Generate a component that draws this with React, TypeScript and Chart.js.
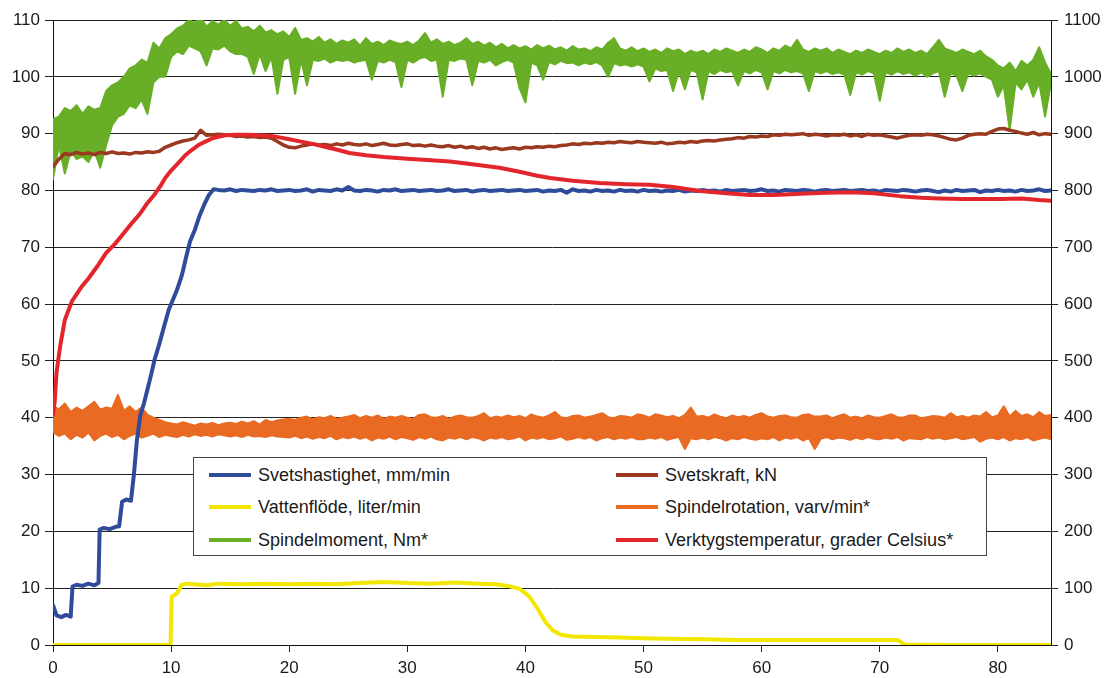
import React, { useEffect, useRef } from "react";
import { Chart, registerables } from "chart.js";
Chart.register(...registerables);

const FONT = "'Liberation Sans', Arial, Helvetica, sans-serif";

// Common sampling grid (time axis, 0.5 step)
const TIME = [
  0, 0.5, 1, 1.5, 2, 2.5, 3, 3.5, 4, 4.5,
  5, 5.5, 6, 6.5, 7, 7.5, 8, 8.5, 9, 9.5,
  10, 10.5, 11, 11.5, 12, 12.5, 13, 13.5, 14, 14.5,
  15, 15.5, 16, 16.5, 17, 17.5, 18, 18.5, 19, 19.5,
  20, 20.5, 21, 21.5, 22, 22.5, 23, 23.5, 24, 24.5,
  25, 25.5, 26, 26.5, 27, 27.5, 28, 28.5, 29, 29.5,
  30, 30.5, 31, 31.5, 32, 32.5, 33, 33.5, 34, 34.5,
  35, 35.5, 36, 36.5, 37, 37.5, 38, 38.5, 39, 39.5,
  40, 40.5, 41, 41.5, 42, 42.5, 43, 43.5, 44, 44.5,
  45, 45.5, 46, 46.5, 47, 47.5, 48, 48.5, 49, 49.5,
  50, 50.5, 51, 51.5, 52, 52.5, 53, 53.5, 54, 54.5,
  55, 55.5, 56, 56.5, 57, 57.5, 58, 58.5, 59, 59.5,
  60, 60.5, 61, 61.5, 62, 62.5, 63, 63.5, 64, 64.5,
  65, 65.5, 66, 66.5, 67, 67.5, 68, 68.5, 69, 69.5,
  70, 70.5, 71, 71.5, 72, 72.5, 73, 73.5, 74, 74.5,
  75, 75.5, 76, 76.5, 77, 77.5, 78, 78.5, 79, 79.5,
  80, 80.5, 81, 81.5, 82, 82.5, 83, 83.5, 84, 84.5,
];

const X_TICKS = [0, 10, 20, 30, 40, 50, 60, 70, 80];
const Y_TICKS = [0, 10, 20, 30, 40, 50, 60, 70, 80, 90, 100, 110];
const Y2_TICKS = [0, 100, 200, 300, 400, 500, 600, 700, 800, 900, 1000, 1100];

// Svetshastighet, mm/min — ramp-up phase (own time stamps)
const BLUE_EARLY_T = [0, 0.3, 0.7, 1.1, 1.5, 1.65, 2.0, 2.5, 3.0, 3.5, 3.85, 3.95, 4.3, 4.8, 5.3, 5.6, 5.85, 6.2, 6.6, 6.85, 7.1, 7.4, 7.7, 8.0, 8.3, 8.6, 9.0, 9.4, 9.8, 10.1, 10.5, 10.9, 11.3, 11.6, 12.0, 12.4, 12.8, 13.2, 13.6];
const BLUE_EARLY_V = [7.0, 5.2, 4.9, 5.3, 5.0, 10.3, 10.6, 10.4, 10.8, 10.5, 10.9, 20.3, 20.6, 20.4, 20.8, 20.9, 25.2, 25.6, 25.4, 30.0, 36.0, 40.5, 42.5, 45.0, 47.5, 50.2, 53.0, 56.0, 59.0, 60.5, 62.5, 65.0, 68.5, 71.0, 73.0, 75.5, 77.5, 79.2, 80.2];
// Svetshastighet, mm/min — steady phase, on TIME grid from t = 14
const BLUE_LATE = [
  80.1, 80.0, 80.2, 79.9, 80.1, 80.0, 79.9, 80.1, 80.0, 80.2, 79.9, 80.0,
  80.1, 79.9, 80.0, 80.2, 79.8, 80.1, 80.0, 79.9, 80.2, 80.0, 80.6, 80.0,
  79.9, 80.1, 80.0, 79.8, 80.1, 80.0, 80.2, 79.9, 80.0, 80.1, 79.9, 80.0,
  80.1, 79.9, 80.0, 80.2, 79.9, 80.0, 80.1, 79.8, 80.0, 80.1, 79.9, 80.0,
  80.1, 79.9, 80.0, 80.1, 79.9, 80.0, 80.1, 79.8, 80.0, 79.9, 80.1, 79.6,
  80.2, 79.9, 80.0, 79.8, 80.1, 79.9, 80.0, 79.8, 80.1, 79.9, 80.0, 79.8,
  80.1, 79.9, 80.0, 79.8, 80.0, 79.9, 80.1, 79.8, 80.0, 79.9, 80.1, 79.9,
  80.0, 79.8, 80.1, 79.9, 80.0, 80.1, 79.9, 80.0, 80.2, 79.9, 80.0, 79.8,
  80.1, 80.0, 79.9, 80.1, 80.0, 79.8, 80.0, 80.1, 79.9, 80.0, 80.1, 79.9,
  80.0, 80.1, 79.9, 80.0, 79.8, 80.1, 80.0, 79.9, 80.1, 80.0, 79.8, 80.0,
  80.1, 79.9, 79.7, 80.0, 79.8, 80.1, 79.9, 80.0, 80.1, 79.7, 80.0, 79.9,
  80.1, 79.9, 80.0, 79.8, 80.1, 79.9, 80.0, 80.2, 79.9, 80.0,
];

// Svetskraft, kN (TIME grid)
const BROWN = [
  84.2, 85.5, 86.5, 86.3, 86.7, 86.4, 86.6, 86.3, 86.7, 86.5,
  86.8, 86.5, 86.6, 86.4, 86.7, 86.6, 86.8, 86.7, 86.9, 87.6,
  88.0, 88.4, 88.7, 88.9, 89.2, 90.6, 89.7, 89.8, 89.9, 89.8,
  89.7, 89.5, 89.6, 89.4, 89.5, 89.3, 89.4, 89.2, 88.6, 88.0,
  87.6, 87.5, 87.8, 88.0, 88.2, 88.0, 88.1, 87.9, 88.2, 88.0,
  88.3, 88.1, 88.0, 88.2, 87.9, 88.1, 88.3, 88.0, 87.9, 88.1,
  88.2, 87.9, 88.0, 87.8, 88.0, 87.8, 87.7, 87.9, 87.6, 87.8,
  87.5, 87.7, 87.4, 87.6, 87.3, 87.5, 87.2, 87.4, 87.5, 87.3,
  87.6, 87.5, 87.7, 87.6, 87.8, 87.7, 87.9, 88.0, 88.2, 88.1,
  88.3, 88.2, 88.4, 88.3, 88.5, 88.4, 88.6, 88.5, 88.4, 88.6,
  88.5, 88.4, 88.3, 88.5, 88.2, 88.3, 88.5, 88.4, 88.6, 88.5,
  88.7, 88.8, 88.7, 88.9, 89.0, 89.1, 89.3, 89.2, 89.5, 89.4,
  89.6, 89.5, 89.8, 89.7, 89.9, 89.8, 89.9, 90.0, 89.7, 89.9,
  89.8, 89.6, 89.8, 89.7, 89.9, 89.6, 89.8, 89.5, 89.9, 89.7,
  89.8, 89.6, 89.4, 89.2, 89.5, 89.7, 89.8, 89.7, 89.9, 89.8,
  89.6, 89.3, 89.0, 88.9, 89.2, 89.7, 89.9, 90.0, 89.9, 90.4,
  90.8, 90.9, 90.6, 90.4, 90.1, 89.9, 90.2, 89.8, 90.0, 89.9,
];

// Vattenflöde, liter/min (own time stamps)
const YEL_T = [0, 5, 9.95, 10.05, 10.5, 10.9, 11.5, 12, 13, 14, 16, 18, 20, 22, 24, 26, 28, 30, 32, 34, 36, 37.5, 38.5, 39.5, 40.3, 41, 41.7, 42.3, 43, 44, 46, 48, 50, 52, 55, 58, 61, 64, 67, 70, 71.5, 72.1, 76, 80, 84.5];
const YEL_V = [0, 0, 0, 8.5, 9.1, 10.6, 10.8, 10.7, 10.5, 10.8, 10.7, 10.8, 10.7, 10.8, 10.7, 10.9, 11.1, 10.9, 10.8, 11.0, 10.8, 10.7, 10.4, 9.9, 8.6, 6.5, 4.0, 2.6, 1.8, 1.5, 1.4, 1.3, 1.2, 1.1, 1.0, 0.9, 0.9, 0.9, 0.9, 0.9, 0.9, 0.1, 0, 0, 0];

// Spindelrotation, varv/min (TIME grid, right axis) — upper and lower extremes of the noisy trace
const ORANGE_HI = [
  420, 415, 425, 410, 418, 412, 420, 428, 414, 418,
  416, 440, 412, 420, 410, 418, 405, 400, 396, 392,
  390, 388, 392, 389, 386, 390, 388, 391, 387, 390,
  391, 389, 393, 390, 394, 388, 396, 392, 395, 397,
  398, 396, 400, 402, 397, 401, 399, 403, 398, 400,
  402, 405, 399, 403, 400, 404, 398, 402, 400, 403,
  400, 398, 405, 406, 401, 400, 403, 398, 402, 404,
  401, 400, 403, 408, 399, 402, 400, 404, 401, 403,
  399, 406, 402, 400, 404, 410, 401, 399, 403, 404,
  400, 402, 405, 408, 401, 399, 403, 402, 400, 406,
  404, 400, 406, 404, 401, 403, 399, 405, 418, 402,
  403, 400, 406, 402, 399, 404, 401, 403, 400, 405,
  408, 402, 400, 403, 404, 401, 400, 405, 406, 402,
  402, 404, 399, 403, 406, 400, 402, 399, 404, 401,
  400, 403, 406, 401, 400, 404, 404, 399, 401, 403,
  402, 400, 408, 401, 403, 400, 404, 402, 410, 401,
  404, 420, 402, 412, 403, 406, 401, 410, 403, 405,
];
const ORANGE_LO = [
  375, 368, 372, 362, 370, 365, 374, 360, 368, 372,
  366, 370, 362, 368, 372, 365, 368, 372, 366, 370,
  368, 366, 370, 367, 371, 368, 370, 367, 371, 369,
  367, 369, 366, 370, 367, 368, 366, 369, 367, 366,
  365, 368, 364, 367, 363, 366, 364, 368, 362, 366,
  364, 367, 363, 366, 360, 365, 363, 367, 362, 366,
  364, 361, 366, 363, 367, 362, 360, 365, 363, 366,
  362, 366, 364, 360, 365, 363, 366, 362, 364, 367,
  360, 365, 363, 366, 362, 364, 367, 361, 363, 366,
  363, 366, 360, 364, 366, 362, 365, 363, 366, 362,
  362, 365, 363, 366, 361, 364, 366, 345, 364, 362,
  365, 362, 366, 364, 360, 364, 362, 366, 363, 361,
  364, 362, 366, 360, 365, 363, 366, 360, 364, 345,
  363, 366, 362, 365, 364, 361, 365, 362, 366, 363,
  362, 365, 363, 366, 360, 364, 363, 362, 366, 363,
  365, 362, 364, 366, 362, 364, 366, 358, 363, 365,
  362, 366, 360, 364, 362, 366, 360, 363, 365, 362,
];

// Spindelmoment, Nm (TIME grid, right axis) — upper and lower extremes of the noisy trace
const GREEN_HI = [
  925, 930, 945, 940, 950, 935, 948, 942, 945, 975,
  985, 990, 1000, 1015, 1020, 1030, 1025, 1060, 1050, 1068,
  1075, 1085, 1090, 1100, 1095, 1105, 1088, 1098, 1092, 1100,
  1090, 1098, 1085, 1088, 1080, 1090, 1078, 1082, 1075, 1080,
  1070, 1086, 1065, 1068, 1062, 1070, 1060, 1066, 1058, 1064,
  1060, 1066, 1055, 1068, 1058, 1062, 1056, 1064, 1060, 1058,
  1062, 1056, 1064, 1077, 1060, 1066, 1058, 1062, 1056, 1060,
  1068, 1058, 1062, 1055, 1060, 1052, 1058, 1050, 1056, 1050,
  1054, 1048, 1056, 1050, 1055, 1048, 1052, 1046, 1054, 1048,
  1050, 1045, 1052, 1048, 1060, 1068, 1050, 1046, 1052, 1045,
  1050, 1044, 1048, 1042, 1050, 1045, 1048, 1040, 1046, 1042,
  1046, 1040, 1048, 1044, 1050, 1046, 1042, 1048, 1044, 1052,
  1048, 1042, 1050, 1046, 1055, 1050, 1065, 1048, 1044, 1050,
  1046, 1050, 1042, 1048, 1044, 1040, 1046, 1042, 1048, 1044,
  1040, 1046, 1042, 1050, 1044, 1048, 1042, 1046, 1040, 1052,
  1065, 1050, 1046, 1042, 1048, 1044, 1040, 1046, 1036, 1030,
  1020, 1015, 1025, 1010, 1028, 1020, 1030, 1052, 1025, 1005,
];
const GREEN_LO = [
  820, 880, 830, 870, 855, 860, 850, 870, 840, 880,
  915, 930, 935, 950, 945, 960, 935, 990, 1000, 1000,
  1035, 1045, 1040, 1055, 1050, 1045, 1020, 1050, 1048, 1055,
  1045, 1040, 1040, 1035, 1005, 1040, 1010, 1035, 970, 1030,
  1035, 970, 1030, 985, 1030, 1028, 1032, 1025, 1030, 1028,
  1030, 1025, 1028, 1030, 995, 1028, 1025, 1030, 1026, 982,
  1030, 1025, 1032, 1035, 1028, 1030, 965, 1030, 1028, 1032,
  1030, 985, 1028, 1025, 1030, 1020, 1026, 1030, 1025, 980,
  955, 1025, 1020, 995, 1026, 1022, 1028, 1024, 1025, 1020,
  1025, 1022, 1026, 1020, 1000, 1024, 1020, 1022, 1018, 1022,
  1018, 992, 1015, 1010, 1012, 975, 1010, 978, 1012, 1008,
  960, 1010, 1005, 1012, 1008, 1010, 985, 1010, 1006, 1012,
  1008, 978, 1010, 1006, 1012, 1008, 1010, 1006, 975, 1010,
  1006, 1010, 1005, 1008, 1004, 968, 1008, 1004, 1010, 1006,
  958, 1008, 1004, 1010, 1005, 1008, 1002, 1008, 1000, 1006,
  1010, 965, 1006, 1002, 975, 1006, 1002, 1006, 1000, 995,
  965, 985, 906, 990, 978, 995, 965, 990, 930, 990,
];

// Verktygstemperatur, grader Celsius (own time stamps, right axis)
const RED_T = [0, 0.15, 0.3, 0.6, 1.0, 1.6, 2.4, 3.0, 3.8, 4.5, 5.25, 6.0, 6.7, 7.4, 8.0, 8.6, 9.1, 9.5, 10.0, 10.6, 11.2, 11.8, 12.4, 12.9, 13.5, 14.1, 14.6, 15.5, 16.5, 17.5, 18.5, 19.3, 20.0, 21.0, 22.0, 23.0, 24.0, 25.1, 26.5, 28.0, 30.0, 32.0, 33.6, 35.5, 37.8, 39.5, 41.0, 42.1, 44.0, 46.3, 48.5, 50.5, 52.5, 54.8, 57.0, 59.0, 61.0, 63.3, 65.5, 67.5, 69.5, 71.7, 73.5, 75.0, 77.0, 79.0, 80.3, 82.0, 83.5, 84.5];
const RED_V = [405, 430, 480, 525, 572, 605, 630, 645, 668, 690, 706, 725, 743, 760, 778, 793, 808, 822, 835, 848, 862, 872, 881, 886, 892, 895, 897, 898, 898, 897, 896, 893, 890, 886, 882, 877, 872, 866, 862, 859, 856, 853, 851, 846, 840, 833, 826, 822, 817, 813, 811, 810, 806, 799, 795, 792, 792, 794, 796, 797, 795, 790, 787, 786, 785, 785, 785, 786, 783, 782];

const LABELS = [
  "Svetshastighet, mm/min",
  "Svetskraft, kN",
  "Vattenflöde, liter/min",
  "Spindelrotation, varv/min*",
  "Spindelmoment, Nm*",
  "Verktygstemperatur, grader Celsius*",
];
const COLORS = ["#2F4C9B", "#9A3820", "#F3E600", "#E96A22", "#68AE26", "#E3262B"];

function zip(xs: number[], ys: number[]) {
  return ys.map((y, i) => ({ x: xs[i], y }));
}

export default function App() {
  const ref = useRef<HTMLCanvasElement>(null);

  useEffect(() => {
    const blueData = [
      ...zip(BLUE_EARLY_T, BLUE_EARLY_V),
      ...zip(TIME.slice(28), BLUE_LATE),
    ];
    const tickFont = { family: FONT, size: 17 };
    const chart = new Chart(ref.current!, {
      type: "line",
      data: {
        datasets: [
          { label: LABELS[3] + " (min)", data: zip(TIME, ORANGE_LO), borderColor: COLORS[3], borderWidth: 2, yAxisID: "y2", order: 6, fill: false },
          { label: LABELS[3], data: zip(TIME, ORANGE_HI), borderColor: COLORS[3], backgroundColor: COLORS[3], borderWidth: 2, yAxisID: "y2", order: 6, fill: "-1" },
          { label: LABELS[4] + " (min)", data: zip(TIME, GREEN_LO), borderColor: COLORS[4], borderWidth: 2, yAxisID: "y2", order: 4, fill: false },
          { label: LABELS[4], data: zip(TIME, GREEN_HI), borderColor: COLORS[4], backgroundColor: COLORS[4], borderWidth: 2, yAxisID: "y2", order: 4, fill: "-1" },
          { label: LABELS[2], data: zip(YEL_T, YEL_V), borderColor: COLORS[2], borderWidth: 4, yAxisID: "y", order: 5 },
          { label: LABELS[1], data: zip(TIME, BROWN), borderColor: COLORS[1], borderWidth: 3.5, yAxisID: "y", order: 3 },
          { label: LABELS[0], data: blueData, borderColor: COLORS[0], borderWidth: 4, yAxisID: "y", order: 1 },
          { label: LABELS[5], data: zip(RED_T, RED_V), borderColor: COLORS[5], borderWidth: 4, yAxisID: "y2", order: 0 },
        ],
      },
      options: {
        animation: false,
        responsive: false,
        maintainAspectRatio: false,
        layout: { padding: { top: 20, left: 0, right: 0, bottom: 0 } },
        plugins: { legend: { display: false }, tooltip: { enabled: false }, filler: { propagate: false } },
        elements: { point: { radius: 0 }, line: { tension: 0, borderJoinStyle: "round", borderCapStyle: "round" } },
        scales: {
          x: {
            type: "linear",
            min: 0,
            max: 84.5,
            afterFit: (s: any) => { s.height = 33; },
            afterBuildTicks: (s: any) => { s.ticks = X_TICKS.map((v) => ({ value: v })); },
            ticks: { font: tickFont, color: "#1a1a1a", padding: 6, maxRotation: 0, autoSkip: false, callback: (v: any) => String(v) },
            grid: { drawOnChartArea: false, drawTicks: true, tickLength: 7, color: "#222" },
            border: { display: true, color: "#111", width: 1 },
          },
          y: {
            position: "left",
            min: 0,
            max: 110,
            afterFit: (s: any) => { s.width = 53; },
            afterBuildTicks: (s: any) => { s.ticks = Y_TICKS.map((v) => ({ value: v })); },
            ticks: { font: tickFont, color: "#1a1a1a", padding: 5, autoSkip: false, callback: (v: any) => String(v) },
            grid: { color: "#222", lineWidth: 1, tickLength: 8 },
            border: { display: true, color: "#111", width: 1 },
          },
          y2: {
            position: "right",
            min: 0,
            max: 1100,
            afterFit: (s: any) => { s.width = 57; },
            afterBuildTicks: (s: any) => { s.ticks = Y2_TICKS.map((v) => ({ value: v })); },
            ticks: { font: tickFont, color: "#1a1a1a", padding: 6, autoSkip: false, callback: (v: any) => String(v) },
            grid: { drawOnChartArea: false, tickLength: 7, color: "#222" },
            border: { display: true, color: "#111", width: 1 },
          },
        },
      },
    } as any);
    return () => chart.destroy();
  }, []);

  const colLeft = [15, 422];
  const rowCenter = [17, 49, 82];

  return (
    <div style={{ position: "fixed", left: 0, top: 0, width: 1108, height: 678, background: "#fff" }}>
      <canvas ref={ref} width={1108} height={678} style={{ display: "block" }} />
      <div
        style={{
          position: "absolute",
          left: 193,
          top: 457,
          width: 794,
          height: 99,
          boxSizing: "border-box",
          border: "1.5px solid #444",
          background: "#fff",
          fontFamily: FONT,
          fontSize: 18,
          color: "#1a1a1a",
        }}
      >
        {LABELS.map((label, i) => (
          <div
            key={label}
            style={{
              position: "absolute",
              left: colLeft[i % 2],
              top: rowCenter[Math.floor(i / 2)] - 12,
              height: 24,
              display: "flex",
              alignItems: "center",
              whiteSpace: "nowrap",
            }}
          >
            <span style={{ display: "inline-block", width: 42, height: 4, background: COLORS[i], marginRight: 7 }} />
            <span>{label}</span>
          </div>
        ))}
      </div>
    </div>
  );
}
